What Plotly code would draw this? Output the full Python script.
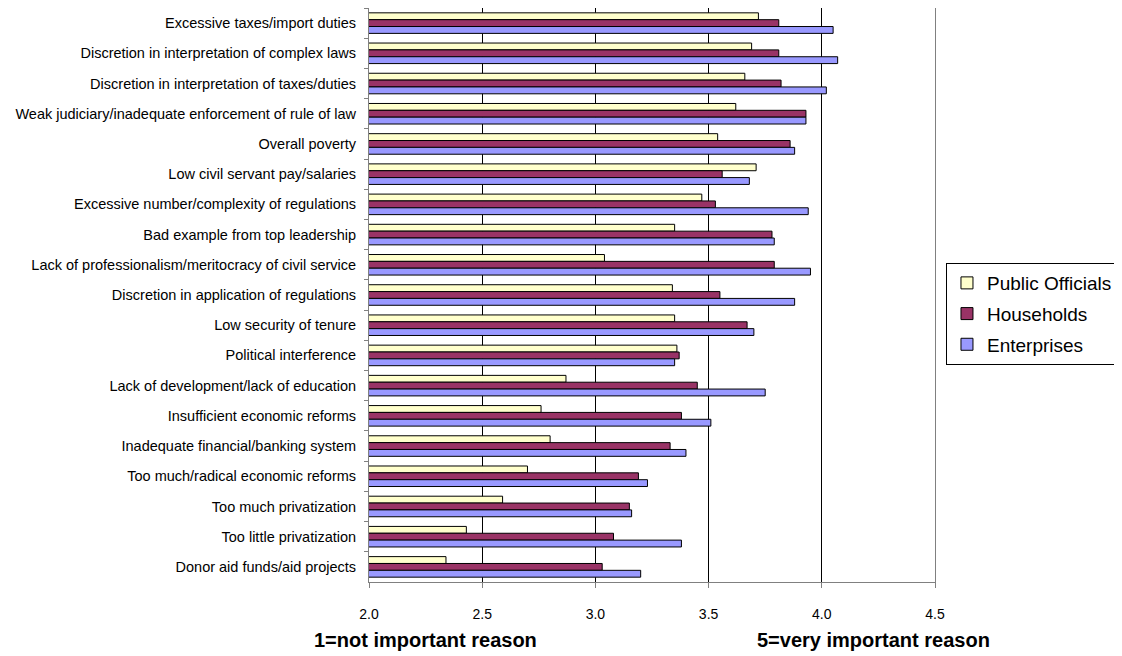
import plotly.graph_objects as go

categories = [
    "Excessive taxes/import duties",
    "Discretion in interpretation of complex laws",
    "Discretion in interpretation of taxes/duties",
    "Weak judiciary/inadequate enforcement of rule of law",
    "Overall poverty",
    "Low civil servant pay/salaries",
    "Excessive number/complexity of regulations",
    "Bad example from top leadership",
    "Lack of professionalism/meritocracy of civil service",
    "Discretion in application of regulations",
    "Low security of tenure",
    "Political interference",
    "Lack of development/lack of education",
    "Insufficient economic reforms",
    "Inadequate financial/banking system",
    "Too much/radical economic reforms",
    "Too much privatization",
    "Too little privatization",
    "Donor aid funds/aid projects",
]

public_officials = [3.72, 3.69, 3.66, 3.62, 3.54, 3.71, 3.47, 3.35, 3.04, 3.34,
                    3.35, 3.36, 2.87, 2.76, 2.80, 2.70, 2.59, 2.43, 2.34]
households = [3.81, 3.81, 3.82, 3.93, 3.86, 3.56, 3.53, 3.78, 3.79, 3.55,
              3.67, 3.37, 3.45, 3.38, 3.33, 3.19, 3.15, 3.08, 3.03]
enterprises = [4.05, 4.07, 4.02, 3.93, 3.88, 3.68, 3.94, 3.79, 3.95, 3.88,
               3.70, 3.35, 3.75, 3.51, 3.40, 3.23, 3.16, 3.38, 3.20]

series = [
    ("Public Officials", public_officials, "#FFFFCC"),
    ("Households", households, "#993366"),
    ("Enterprises", enterprises, "#9999FF"),
]

FONT = "Liberation Sans, Arial, sans-serif"

fig = go.Figure()
for name, vals, color in series:
    fig.add_trace(go.Bar(
        y=categories, x=vals, name=name, orientation="h",
        legendgroup=name,
        marker=dict(color=color, line=dict(color="black", width=1)),
    ))

fig.update_layout(
    width=1114, height=648,
    margin=dict(l=361, r=187, t=0, b=74, autoexpand=False),
    paper_bgcolor="white", plot_bgcolor="white",
    barmode="group", bargap=0.32, bargroupgap=0,
    font=dict(family=FONT, color="black"),
    showlegend=True,
    legend=dict(
        x=1.0194, y=0.5557, xanchor="left", yanchor="top",
        traceorder="grouped", tracegroupgap=3,
        bordercolor="black", borderwidth=1,
        font=dict(size=19, family=FONT, color="black"),
        itemwidth=30,
    ),
)

fig.update_xaxes(
    range=[2.0, 4.5], dtick=0.5, tick0=2.0, tickformat=".1f",
    showgrid=True, gridcolor="black", gridwidth=1,
    showline=True, linecolor="#808080", linewidth=1, mirror=True,
    ticks="outside", ticklen=5, tickcolor="#808080",
    tickfont=dict(size=14, family=FONT, color="black"),
    ticklabelstandoff=14, automargin=False,
    zeroline=False, fixedrange=True,
)
fig.update_yaxes(
    autorange="reversed",
    showline=True, linecolor="#808080", linewidth=1, mirror=True,
    ticks="outside", ticklen=4, tickcolor="#808080", tickson="boundaries",
    tickfont=dict(size=14.5, family=FONT, color="black"),
    ticklabelstandoff=9, automargin=False,
    showgrid=False,
)

fig.add_annotation(
    x=0.1007, y=-0.101, xref="paper", yref="paper",
    text="<b>1=not important reason</b>", showarrow=False,
    xanchor="center", yanchor="middle",
    font=dict(size=20, family=FONT, color="black"),
)
fig.add_annotation(
    x=0.892, y=-0.101, xref="paper", yref="paper",
    text="<b>5=very important reason</b>", showarrow=False,
    xanchor="center", yanchor="middle",
    font=dict(size=20, family=FONT, color="black"),
)

fig.write_html("out.html")
